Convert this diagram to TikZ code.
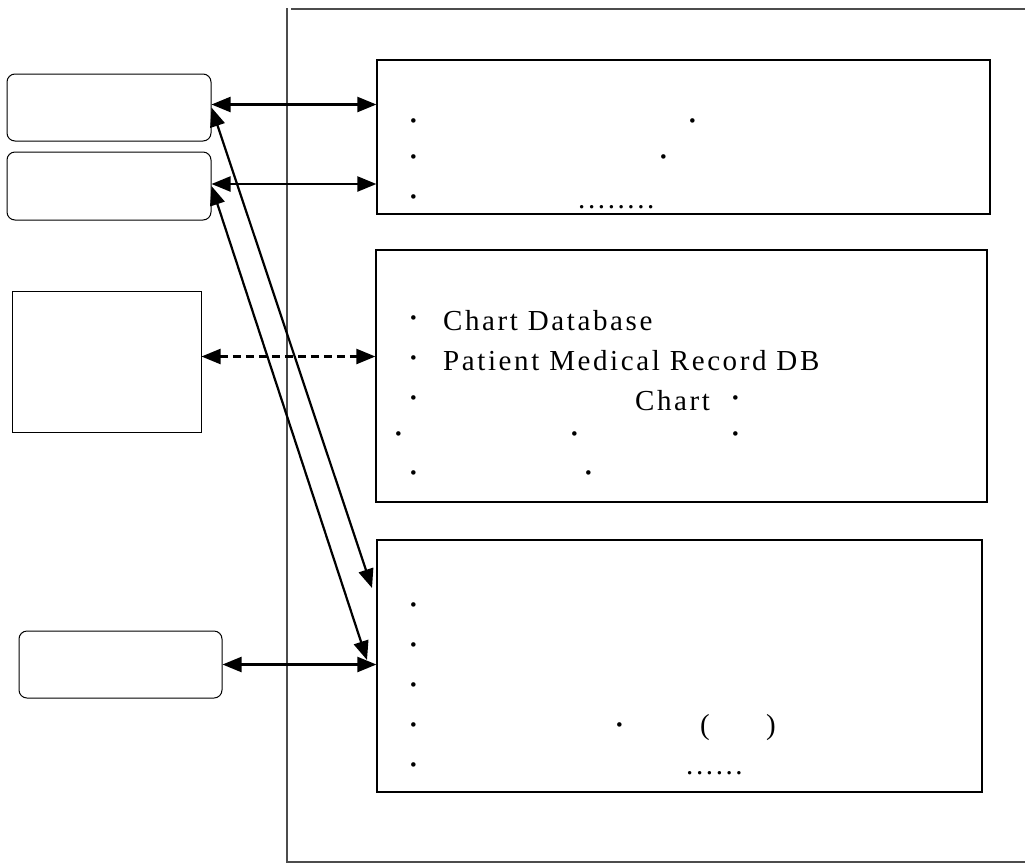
\documentclass[tikz,border=0pt]{standalone}
\usepackage{fontspec}
\setmainfont{Liberation Serif}[LetterSpace=9]
\usetikzlibrary{arrows.meta}
\begin{document}
\begin{tikzpicture}[x=1pt,y=-1pt,>={Triangle[length=19pt,width=15pt]},
  txt/.style={font=\fontsize{29}{34}\selectfont,inner sep=0pt},
  dotmark/.style={font=\fontsize{38}{40}\selectfont,inner sep=0pt,anchor=base,yshift=-9.5pt},
  word/.style={txt,anchor=base west},
  srcbox/.style={draw,line width=1pt,rounded corners=8pt,inner sep=0pt},
  infobox/.style={draw,line width=1.2pt,inner sep=0pt},
  link/.style={<->,line width=2.2pt}]
  \useasboundingbox (0,0) rectangle (1025,863);
  \draw[black!70,line width=1.3pt] (291,9) -- (1025,9);
  \draw[black!70,line width=1.3pt] (287,8) -- (287,862) -- (1025,862);
  \node[srcbox,minimum width=204pt,minimum height=67pt] (A) at (109,107.5) {};
  \node[srcbox,minimum width=204pt,minimum height=68pt] (B) at (109,186) {};
  \node[infobox,line width=1pt,minimum width=189pt,minimum height=141pt] (C) at (106.5,361.5) {};
  \node[srcbox,minimum width=203pt,minimum height=67pt] (D) at (120.5,664.5) {};
  \node[infobox,minimum width=613pt,minimum height=154pt] (box1) at (683.5,137) {};
  \node[infobox,minimum width=611pt,minimum height=252pt] (box2) at (681.5,376) {};
  \node[infobox,minimum width=605pt,minimum height=252pt] (box3) at (679.5,666) {};
  \coordinate (t1) at (372,588);
  \coordinate (t2) at (367,660);
  \draw[link] ([yshift=3pt]A.east) -- ([yshift=3pt]A.east -| box1.west);
  \draw[link] ([yshift=2pt]B.east) -- ([yshift=2pt]B.east -| box1.west);
  \draw[link,dash pattern=on 8pt off 5pt] ([yshift=5pt]C.east) -- ([yshift=5pt]C.east -| box2.west);
  \draw[link] (D.east) -- (D.east -| box3.west);
  \draw[link] (A.east) -- (t1);
  \draw[link] (B.east) -- (t2);
  \foreach \y [count=\i] in {124,160,200} \node[dotmark] (a\i) at (414,\y) {·};
  \node[dotmark] (a4) at (693,124) {·};
  \node[dotmark] (a5) at (664,160) {·};
  \node[word] (a6) at (578,208) {........};
  \foreach \y [count=\i] in {321,361,401,476} \node[dotmark] (b\i) at (414,\y) {·};
  \node[word] (cdb) at (443,330) {Chart Database};
  \node[word] (pmr) at (443,370) {Patient Medical Record DB};
  \node[word] (chart) at (635,410) {Chart};
  \node[dotmark] (b5) at (736,401) {·};
  \node[dotmark] (b6) at (399,437) {·};
  \node[dotmark] (b7) at (575,437) {·};
  \node[dotmark] (b8) at (736,437) {·};
  \node[dotmark] (b9) at (589,476) {·};
  \foreach \y [count=\i] in {608,648,688,728,768} \node[dotmark] (c\i) at (414,\y) {·};
  \node[dotmark] (c6) at (620,728) {·};
  \node[txt] (lp) at (705,728) {(};
  \node[txt] (rp) at (771,728) {)};
  \node[word] (c7) at (686,774) {......};
\end{tikzpicture}
\end{document}
